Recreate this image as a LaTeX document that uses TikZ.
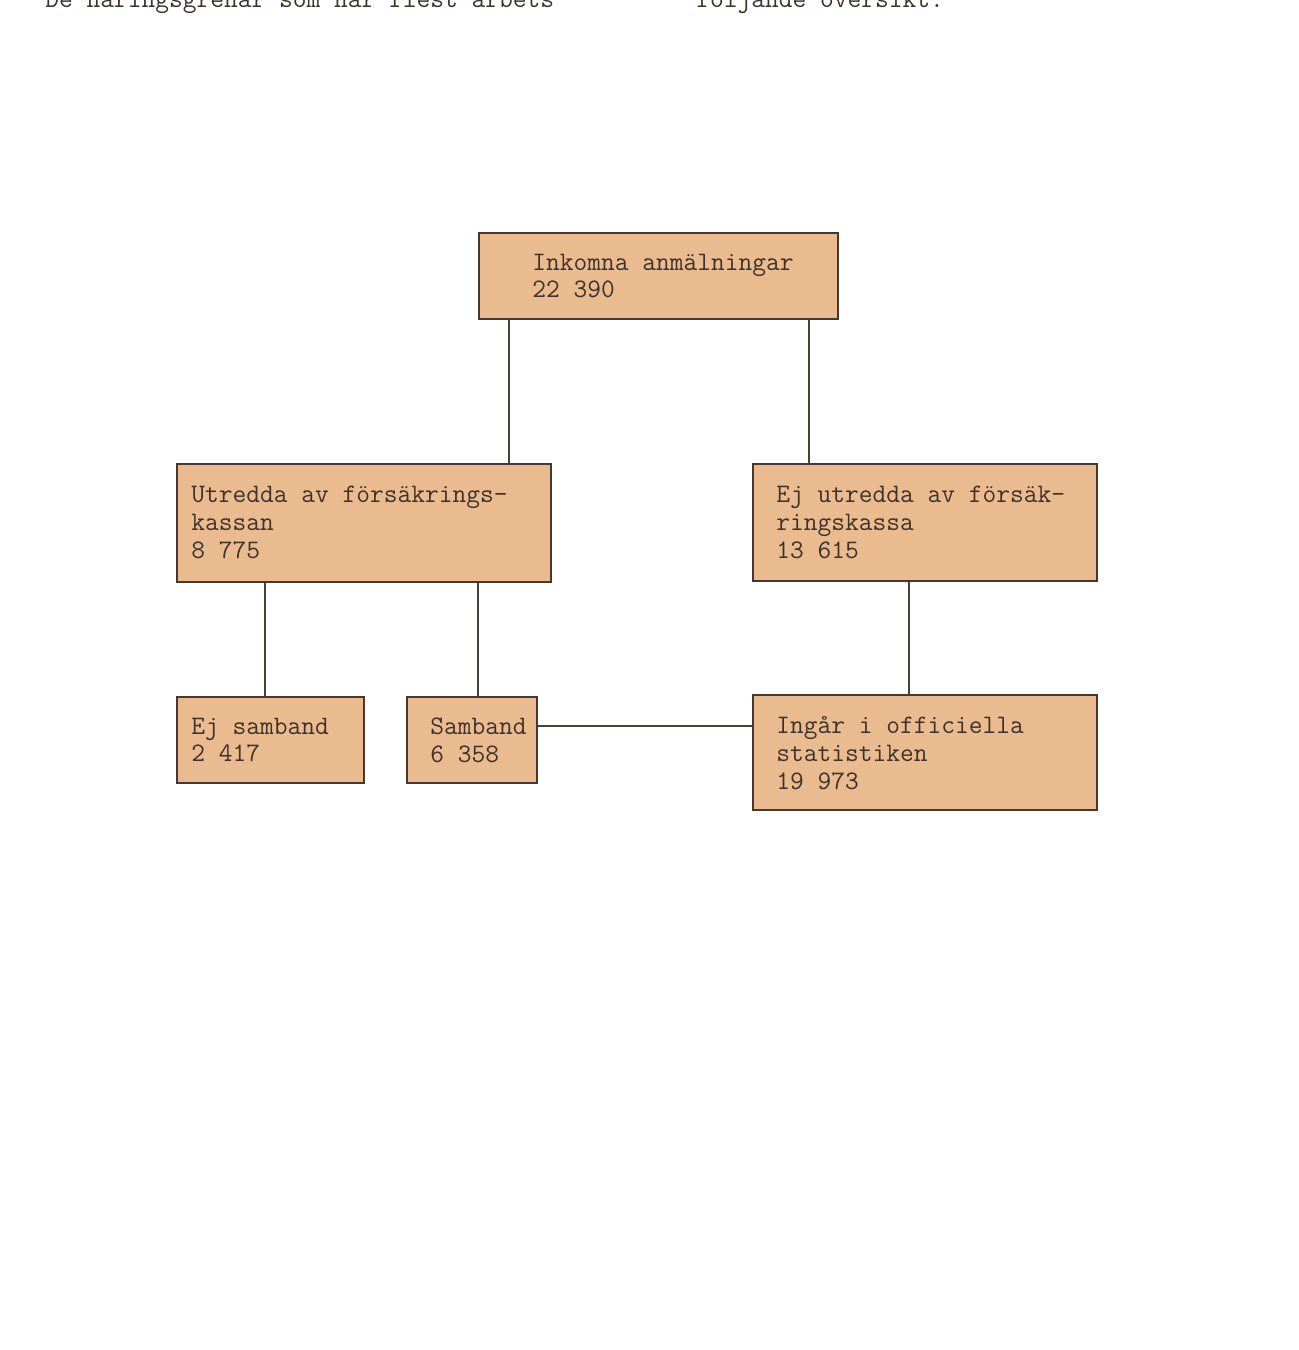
\documentclass[tikz,border=0pt]{standalone}
\usepackage{fontspec}
\usetikzlibrary{fit}
\definecolor{boxfill}{RGB}{233,187,142}
\definecolor{boxline}{RGB}{70,56,48}
\definecolor{inkc}{RGB}{62,50,44}
\definecolor{connc}{RGB}{72,64,60}
\tikzset{
  x=0.02cm, y=-0.02cm,
  box/.style={draw=boxline, fill=boxfill, line width=1.4pt, inner sep=0pt, rectangle},
  lbl/.style={anchor=west, align=left, inner sep=0pt, text=inkc,
    font=\ttfamily\addfontfeatures{FakeBold=1.2}\fontsize{15.2pt}{15.9pt}\selectfont},
  toptext/.style={anchor=base west, inner sep=0pt, text=inkc,
    font=\ttfamily\addfontfeatures{FakeBold=1.2}\fontsize{15.2pt}{15.9pt}\selectfont},
  conn/.style={draw=connc, line width=1.1pt}
}
\begin{document}
\begin{tikzpicture}
\useasboundingbox (0,0) rectangle (1299,1350);
\fill[white] (0,0) rectangle (1299,1350);
\clip (0,0) rectangle (1299,1350);
% cut-off text line at the top of the page
\node[toptext] (topl) at (45,7) {De näringsgrenar som har flest arbets-};
\node[toptext] (topr) at (696,7) {följande översikt:};
% x positions of connectors
\coordinate (xa) at (509,0);
\coordinate (xb) at (809,0);
\coordinate (xc) at (265,0);
\coordinate (xd) at (478,0);
\coordinate (xe) at (909,0);
\coordinate (ya) at (0,726);
% boxes
\node[box, fit={(479,233) (838,319)}] (ink) {};
\node[box, fit={(177,464) (551,582)}] (utr) {};
\node[box, fit={(753,464) (1097,581)}] (ejutr) {};
\node[box, fit={(177,697) (364,783)}] (ejsam) {};
\node[box, fit={(407,697) (537,783)}] (sam) {};
\node[box, fit={(753,695) (1097,810)}] (ingar) {};
% connectors
\draw[conn] (ink.south -| xa) -- (utr.north -| xa);
\draw[conn] (ink.south -| xb) -- (ejutr.north -| xb);
\draw[conn] (utr.south -| xc) -- (ejsam.north -| xc);
\draw[conn] (utr.south -| xd) -- (sam.north -| xd);
\draw[conn] (ejutr.south -| xe) -- (ingar.north -| xe);
\draw[conn] (sam.east |- ya) -- (ingar.west |- ya);
% texts
\node[lbl] (inkt) at (532,276) {Inkomna anmälningar\\22 390};
\node[lbl] (utrt) at (191,522) {Utredda av försäkrings-\\kassan\\8 775};
\node[lbl] (ejutrt) at (776,522) {Ej utredda av försäk-\\ringskassa\\13 615};
\node[lbl] (ejsamt) at (191,740) {Ej samband\\2 417};
\node[lbl] (samt) at (430,740) {Samband\\6 358};
\node[lbl] (ingart) at (776,753) {Ingår i officiella\\statistiken\\19 973};
\end{tikzpicture}
\end{document}
